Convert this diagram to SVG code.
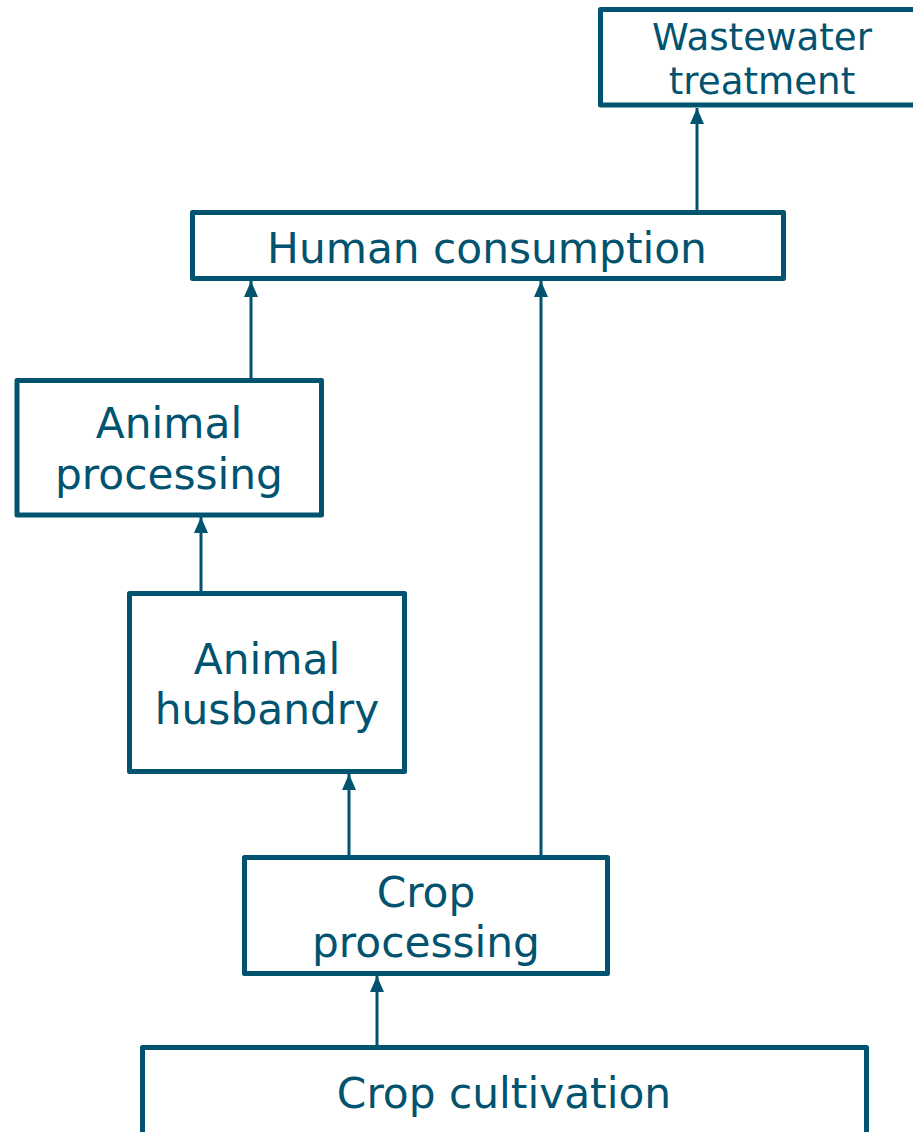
<svg xmlns="http://www.w3.org/2000/svg" width="913" height="1132" viewBox="0 0 913 1132">
<style>
.box{fill:#ffffff;stroke:#02536f;stroke-width:5;stroke-linejoin:round}
.lbl{font-family:"DejaVu Sans","Verdana",sans-serif;font-size:42.3px;fill:#02536f;text-anchor:middle}
.sm{font-size:37.2px}
.con{stroke:#02536f;stroke-width:3;fill:none;marker-end:url(#ah)}
</style>
<defs>
<marker id="ah" markerUnits="userSpaceOnUse" viewBox="0 0 16 14" markerWidth="16" markerHeight="14" refX="16" refY="7" orient="auto">
<path d="M0,0 L16,7 L0,14 z" fill="#02536f"/>
</marker>
</defs>
<rect width="913" height="1132" fill="#ffffff"/>
<g id="connectors">
<line class="con" x1="697" y1="210" x2="697" y2="108"/>
<line class="con" x1="251" y1="378" x2="251" y2="281"/>
<line class="con" x1="541" y1="855" x2="541" y2="281"/>
<line class="con" x1="201" y1="591" x2="201" y2="517"/>
<line class="con" x1="349" y1="855" x2="349" y2="774"/>
<line class="con" x1="377" y1="1045" x2="377" y2="976"/>
</g>
<g id="wastewater">
<rect class="box" x="600.5" y="9.5" width="330" height="95.5"/>
<text class="lbl sm" x="762" y="50">Wastewater</text>
<text class="lbl sm" x="762" y="94">treatment</text>
</g>
<g id="human">
<rect class="box" x="192.5" y="212.5" width="591" height="66"/>
<text class="lbl" x="487" y="263">Human consumption</text>
</g>
<g id="animalproc">
<rect class="box" x="17" y="380.5" width="304.5" height="134.5"/>
<text class="lbl" x="169" y="438">Animal</text>
<text class="lbl" x="169" y="489">processing</text>
</g>
<g id="husbandry">
<rect class="box" x="129.5" y="593.5" width="275" height="178"/>
<text class="lbl" x="267" y="674">Animal</text>
<text class="lbl" x="267" y="724">husbandry</text>
</g>
<g id="cropproc">
<rect class="box" x="244.5" y="857.5" width="363" height="116"/>
<text class="lbl" x="426" y="907">Crop</text>
<text class="lbl" x="426" y="957">processing</text>
</g>
<g id="cultivation">
<rect class="box" x="142.5" y="1047.5" width="724" height="90"/>
<text class="lbl" x="504" y="1108">Crop cultivation</text>
</g>
</svg>
